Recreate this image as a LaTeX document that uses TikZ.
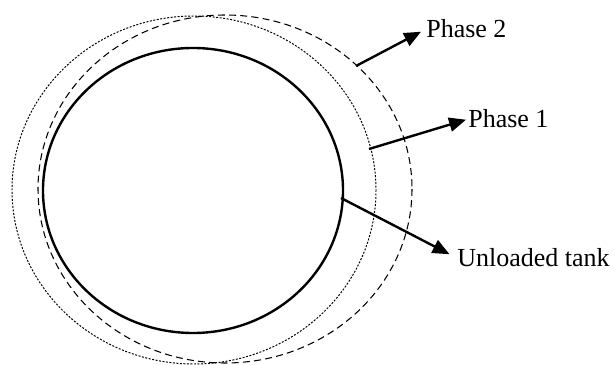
\documentclass[tikz,border=0pt]{standalone}
\usepackage{fontspec}
\setmainfont{Liberation Serif}
\usetikzlibrary{arrows.meta}
\tikzstyle{tank} = [line width=1.7pt]
\tikzstyle{phaseone} = [line width=0.7pt, dash pattern=on 1.4pt off 1.1pt]
\tikzstyle{phasetwo} = [line width=0.75pt, dash pattern=on 5pt off 3pt]
\tikzstyle{arrow} = [line width=1.7pt, -{Triangle[length=12pt,width=10pt]}]
\tikzstyle{phaselabel} = [anchor=base west, inner sep=0pt, font=\fontsize{18.5}{22}\selectfont]

\begin{document}
\begin{tikzpicture}[x=0.025cm, y=-0.025cm]
\useasboundingbox (0,0) rectangle (615,365);

% Shell outlines
\draw [tank] (193,190.5) ellipse [x radius=150, y radius=142.5];
\draw [phaseone] (194,190) ellipse [x radius=182, y radius=174];
\draw [phasetwo] (225,189) ellipse [x radius=187, y radius=174];

% Labels
\node (phase2) [phaselabel] at (426,38) {Phase 2};
\node (phase1) [phaselabel] at (468,128) {Phase 1};
\node (unloaded) [phaselabel] at (457,267) {Unloaded tank};

% Start points on the outlines
\coordinate (onphase2) at (356,66);
\coordinate (onphase1) at (369,149);
\coordinate (ontank) at (341,198);

% Pointers
\draw [arrow, shorten >=4pt] (onphase2) -- (phase2.west);
\draw [arrow, shorten >=1.5pt] (onphase1) -- (phase1.west);
\draw [arrow, shorten >=6pt] (ontank) -- (unloaded.west);

\end{tikzpicture}
\end{document}
